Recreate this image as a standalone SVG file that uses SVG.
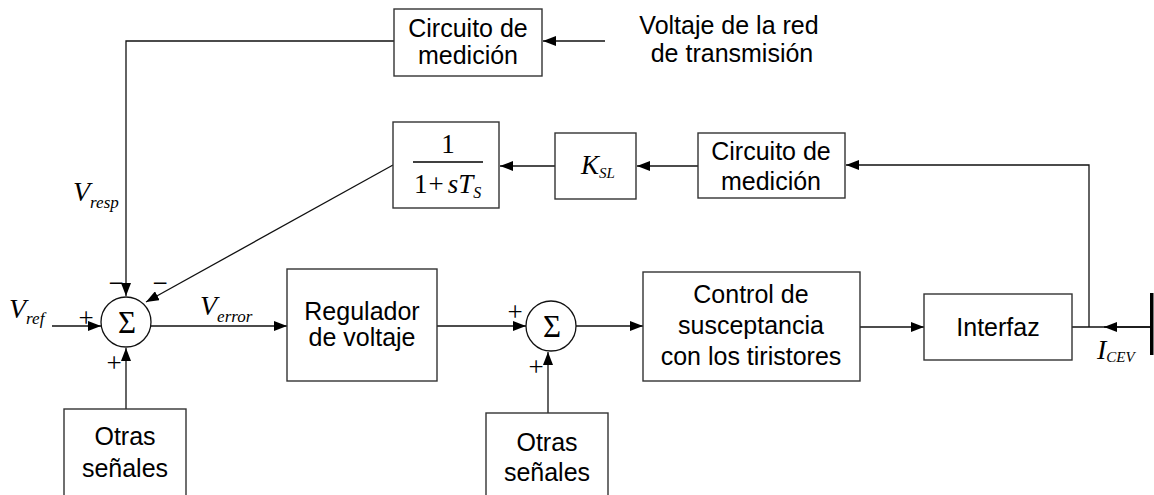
<svg xmlns="http://www.w3.org/2000/svg" width="1154" height="495" viewBox="0 0 1154 495">
<defs>
<marker id="ah" markerWidth="14" markerHeight="10" refX="13" refY="5" orient="auto" markerUnits="userSpaceOnUse">
<path d="M0,0 L13,5 L0,10 Z" fill="#000"/>
</marker>
</defs>
<style>
.box{fill:#fff;stroke:#333;stroke-width:1.4}
.ln{fill:none;stroke:#111;stroke-width:1.3}
.t{font-family:"Liberation Sans",Arial,sans-serif;font-size:25px;fill:#000;text-anchor:middle}
.m{font-family:"Liberation Serif","Times New Roman",serif;fill:#000}
.mi{font-family:"Liberation Serif","Times New Roman",serif;font-style:italic;fill:#000}
.sg{font-family:"Liberation Serif","Times New Roman",serif;font-size:27px;fill:#000;text-anchor:middle}
.sig{font-family:"Liberation Serif","Times New Roman",serif;font-size:31px;fill:#000;text-anchor:middle}
</style>
<rect width="1154" height="495" fill="#fff"/>

<g id="connectors">
<path class="ln" d="M394,41 H126 V296" marker-end="url(#ah)"/>
<path class="ln" d="M605,41 H543" marker-end="url(#ah)"/>
<path class="ln" d="M1089,327 V165 H846" marker-end="url(#ah)"/>
<path class="ln" d="M698,166 H637" marker-end="url(#ah)"/>
<path class="ln" d="M555,166 H500" marker-end="url(#ah)"/>
<path class="ln" d="M393,165 L146,302" marker-end="url(#ah)"/>
<path class="ln" d="M52,326 H101" marker-end="url(#ah)"/>
<path class="ln" d="M126,409 V348" marker-end="url(#ah)"/>
<path class="ln" d="M151,326 H287" marker-end="url(#ah)"/>
<path class="ln" d="M437,326 H526" marker-end="url(#ah)"/>
<path class="ln" d="M548,413 V352" marker-end="url(#ah)"/>
<path class="ln" d="M576,326 H643" marker-end="url(#ah)"/>
<path class="ln" d="M860,327 H924" marker-end="url(#ah)"/>
<path class="ln" d="M1072,327 H1150"/>
<path class="ln" d="M1150,327 H1104" marker-end="url(#ah)"/>
</g>

<g id="bus">
<rect x="1150" y="293" width="3.5" height="62" fill="#000"/>
</g>

<g id="circ-top">
<rect class="box" x="394" y="9" width="148" height="67"/>
<text class="t" x="468" y="37">Circuito de</text>
<text class="t" x="468" y="64">medición</text>
</g>

<g id="voltaje-label">
<text class="t" x="729" y="34">Voltaje de la red</text>
<text class="t" x="732" y="62">de transmisión</text>
</g>

<g id="tf">
<rect class="box" x="393" y="122" width="106" height="86"/>
<text class="m" x="448" y="153" font-size="27" text-anchor="middle">1</text>
<line x1="413" y1="162" x2="483" y2="162" stroke="#000" stroke-width="1.3"/>
<text class="m" x="414" y="193" font-size="27">1<tspan dx="1">+</tspan><tspan class="mi" dx="4">sT</tspan><tspan class="mi" font-size="16" dy="5">S</tspan></text>
</g>

<g id="ksl">
<rect class="box" x="555" y="133" width="81" height="66"/>
<text class="mi" x="581" y="174" font-size="27">K<tspan font-size="15" dy="4">SL</tspan></text>
</g>

<g id="circ-2">
<rect class="box" x="698" y="133" width="147" height="65"/>
<text class="t" x="771" y="160">Circuito de</text>
<text class="t" x="771" y="190">medición</text>
</g>

<g id="sum1">
<circle cx="126" cy="322" r="25" fill="#fff" stroke="#111" stroke-width="1.3"/>
<text class="sig" x="127" y="333">Σ</text>
<text class="sg" x="116" y="292">−</text>
<text class="sg" x="160" y="292">−</text>
<text class="sg" x="86" y="327">+</text>
<text class="sg" x="114" y="372">+</text>
</g>

<g id="sum2">
<circle cx="551" cy="326" r="25" fill="#fff" stroke="#111" stroke-width="1.3"/>
<text class="sig" x="552" y="337">Σ</text>
<text class="sg" x="515" y="321">+</text>
<text class="sg" x="536" y="376">+</text>
</g>

<g id="labels">
<text class="mi" x="73" y="201" font-size="28">V<tspan font-size="17" dy="7">resp</tspan></text>
<text class="mi" x="9" y="318" font-size="28">V<tspan font-size="17" dy="6">ref</tspan></text>
<text class="mi" x="200" y="315" font-size="28">V<tspan font-size="17" dy="7">error</tspan></text>
<text class="mi" x="1097" y="359" font-size="28">I<tspan font-size="15" dy="3">CEV</tspan></text>
</g>

<g id="regulador">
<rect class="box" x="287" y="269" width="150" height="112"/>
<text class="t" x="362" y="320">Regulador</text>
<text class="t" x="362" y="346">de voltaje</text>
</g>

<g id="control">
<rect class="box" x="643" y="272" width="217" height="109"/>
<text class="t" x="751" y="303">Control de</text>
<text class="t" x="751" y="334">susceptancia</text>
<text class="t" x="751" y="365">con los tiristores</text>
</g>

<g id="interfaz">
<rect class="box" x="924" y="294" width="148" height="66"/>
<text class="t" x="998" y="336">Interfaz</text>
</g>

<g id="otras1">
<rect class="box" x="64" y="409" width="122" height="100"/>
<text class="t" x="125" y="445">Otras</text>
<text class="t" x="125" y="477">señales</text>
</g>

<g id="otras2">
<rect class="box" x="486" y="413" width="122" height="100"/>
<text class="t" x="547" y="451">Otras</text>
<text class="t" x="547" y="481">señales</text>
</g>
</svg>
